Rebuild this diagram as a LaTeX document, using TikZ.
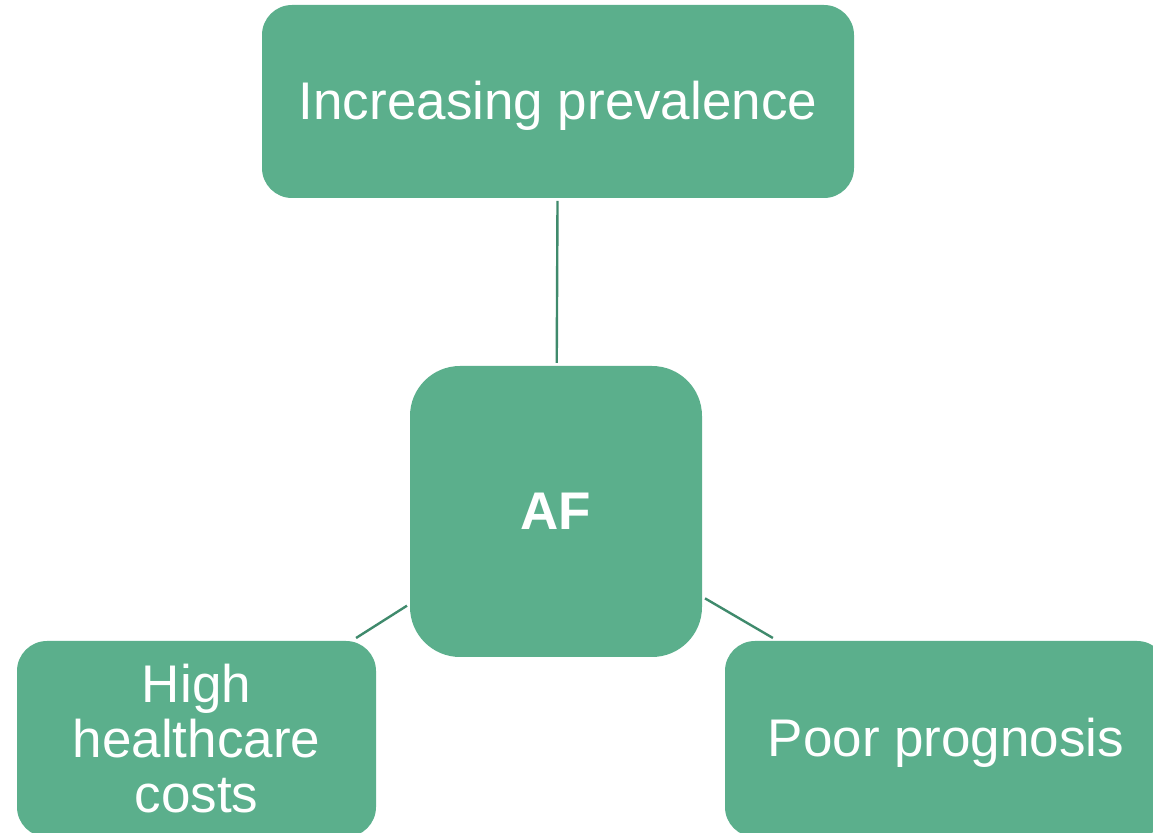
\documentclass[tikz,border=0pt]{standalone}
\usepackage{fontspec}
\setmainfont{Liberation Sans}
\definecolor{boxgreen}{HTML}{5BAF8C}
\definecolor{linkgreen}{HTML}{3F8A6C}

\begin{document}
\begin{tikzpicture}[x=0.5pt, y=-0.5pt,
        topic/.style = {fill=boxgreen, text=white, rounded corners=15pt,
            inner sep=0pt, outer sep=1.5pt, align=center,
            font=\fontsize{26.5}{27.5}\selectfont},
        oneline/.style = {text height=18pt, text depth=0pt},
        link/.style = {draw=linkgreen, line width=1.2pt}]
        \clip (0,0) rectangle (1153,833);
        \node[topic, oneline, minimum width=296pt, minimum height=96.5pt] (prev) at (558,101.5) {Increasing prevalence};
        \node[topic, oneline, rounded corners=25pt, minimum width=146pt, minimum height=145.5pt] (af) at (556,511.5) {\bfseries AF};
        \node[topic, minimum width=179.5pt, minimum height=98pt] (cost) at (196.5,739) {High\\healthcare\\costs};
        \node[topic, oneline, minimum width=221pt, minimum height=98pt] (prog) at (946,739) {Poor prognosis};
        \draw[link] (af) -- (prev);
        \draw[link] (af) -- (cost);
        \draw[link] (af) -- (prog);
    \end{tikzpicture}
\end{document}
